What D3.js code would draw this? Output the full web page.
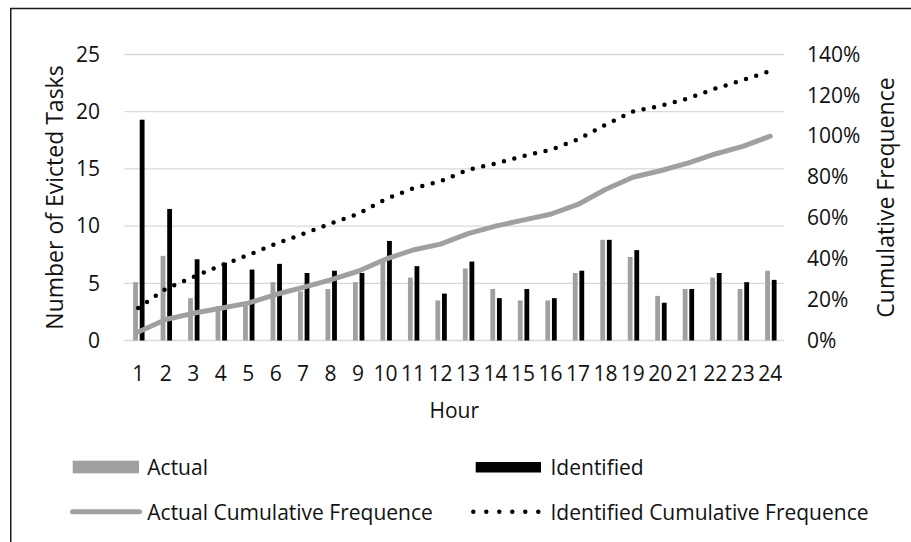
<!DOCTYPE html>
<html>
   <head>
      <script type="text/javascript" src="https://d3js.org/d3.v7.min.js"></script>
      <style>
         body { margin: 0; background: #fff; font-family: "Open Sans", sans-serif; }
         svg text { fill: #111; }
      </style>
   </head>
   <body>
      <script>
         // hours 1..24
         var hours = ["1","2","3","4","5","6","7","8","9","10","11","12","13","14","15","16","17","18","19","20","21","22","23","24"];

         // evicted tasks per hour
         var actual = [5.1, 7.4, 3.7, 3.0, 3.1, 5.1, 4.3, 4.5, 5.1, 7.1, 5.5, 3.5, 6.3, 4.5, 3.5, 3.5, 5.9, 8.8, 7.3, 3.9, 4.5, 5.5, 4.5, 6.1];
         var identified = [19.3, 11.5, 7.1, 6.8, 6.2, 6.7, 5.9, 6.1, 5.9, 8.7, 6.5, 4.1, 6.9, 3.7, 4.5, 3.7, 6.1, 8.8, 7.9, 3.3, 4.5, 5.9, 5.1, 5.3];

         // cumulative frequence, in percent (right axis)
         var actualCum = [4.2, 10.3, 13.3, 15.8, 18.3, 22.5, 26.0, 29.7, 33.9, 39.8, 44.3, 47.2, 52.3, 56.0, 58.9, 61.8, 66.6, 73.9, 79.9, 83.1, 86.8, 91.3, 95.0, 100];
         var identifiedCum = [15.9, 25.3, 31.1, 36.7, 41.8, 47.3, 52.2, 57.2, 62.0, 69.2, 74.5, 77.9, 83.6, 86.6, 90.3, 93.3, 98.4, 105.6, 112.1, 114.8, 118.5, 123.3, 127.5, 131.9];

         var leftTicks = [0, 5, 10, 15, 20, 25];
         var rightTicks = [0, 20, 40, 60, 80, 100, 120, 140];

         var width = 911;
         var height = 542;
         var plotL = 124.5, plotR = 784, plotT = 54.5, plotB = 340.5;

         var svg = d3.select("body")
            .append("svg")
            .attr("width", width)
            .attr("height", height);

         // outer frame (runs off the right and bottom edges)
         svg.append("rect")
            .attr("x", 10.75)
            .attr("y", 8.5)
            .attr("width", 960)
            .attr("height", 600)
            .attr("fill", "none")
            .attr("stroke", "#1a1a1a")
            .attr("stroke-width", 1.5);

         var x = d3.scaleBand()
            .domain(hours)
            .range([plotL, plotR]);

         var yL = d3.scaleLinear()
            .domain([0, 25])
            .range([plotB, plotT]);

         var yR = d3.scaleLinear()
            .domain([0, 140])
            .range([plotB, plotT]);

         var cx = function(h) { return x(h) + x.bandwidth() / 2; };

         // gridlines
         svg.append("g")
            .selectAll("line")
            .data(leftTicks)
            .enter().append("line")
            .attr("x1", plotL)
            .attr("x2", plotR)
            .attr("y1", function(d) { return yL(d); })
            .attr("y2", function(d) { return yL(d); })
            .attr("stroke", "#d9d9d9")
            .attr("stroke-width", 1.3);

         // left axis
         var axL = svg.append("g")
            .attr("transform", "translate(" + 100 + ",0)")
            .call(d3.axisLeft(yL).tickValues(leftTicks).tickSize(0).tickPadding(0));
         axL.select(".domain").remove();
         axL.selectAll("text")
            .attr("font-family", "Open Sans")
            .attr("font-size", 21)
            .attr("fill", "#111");

         // right axis
         var axR = svg.append("g")
            .attr("transform", "translate(" + 807 + ",0)")
            .call(d3.axisRight(yR).tickValues(rightTicks).tickSize(0).tickPadding(0)
               .tickFormat(function(d) { return d + "%"; }));
         axR.select(".domain").remove();
         axR.selectAll("text")
            .attr("font-family", "Open Sans")
            .attr("font-size", 21)
            .attr("fill", "#111");

         // x axis
         var axX = svg.append("g")
            .attr("transform", "translate(0," + plotB + ")")
            .call(d3.axisBottom(x).tickSize(0).tickPadding(26));
         axX.select(".domain").remove();
         axX.selectAll("text")
            .attr("font-family", "Open Sans")
            .attr("font-size", 21)
            .attr("fill", "#111");

         // bars
         svg.append("g")
            .selectAll("rect")
            .data(actual)
            .enter().append("rect")
            .attr("x", function(d, i) { return cx(hours[i]) - 5.1; })
            .attr("width", 4.8)
            .attr("y", function(d) { return yL(d); })
            .attr("height", function(d) { return plotB - yL(d); })
            .attr("fill", "#a0a0a0");

         svg.append("g")
            .selectAll("rect")
            .data(identified)
            .enter().append("rect")
            .attr("x", function(d, i) { return cx(hours[i]) + 1.5; })
            .attr("width", 4.8)
            .attr("y", function(d) { return yL(d); })
            .attr("height", function(d) { return plotB - yL(d); })
            .attr("fill", "#000");

         // cumulative lines
         var line = d3.line()
            .x(function(d, i) { return cx(hours[i]); })
            .y(function(d) { return yR(d); });

         svg.append("path")
            .datum(actualCum)
            .attr("d", line)
            .attr("fill", "none")
            .attr("stroke", "#a0a0a0")
            .attr("stroke-width", 5)
            .attr("stroke-linecap", "round")
            .attr("stroke-linejoin", "round");

         svg.append("path")
            .datum(identifiedCum)
            .attr("d", line)
            .attr("fill", "none")
            .attr("stroke", "#000")
            .attr("stroke-width", 4.5)
            .attr("stroke-linecap", "round")
            .attr("stroke-dasharray", "0 10.7");

         // axis titles
         svg.append("text")
            .attr("transform", "translate(54," + ((plotT + plotB) / 2) + ") rotate(-90)")
            .attr("text-anchor", "middle")
            .attr("dominant-baseline", "central")
            .attr("font-size", 23)
            .text("Number of Evicted Tasks");

         svg.append("text")
            .attr("transform", "translate(885," + ((plotT + plotB) / 2) + ") rotate(-90)")
            .attr("text-anchor", "middle")
            .attr("dominant-baseline", "central")
            .attr("font-size", 23)
            .text("Cumulative Frequence");

         svg.append("text")
            .attr("x", (plotL + plotR) / 2)
            .attr("y", 410)
            .attr("text-anchor", "middle")
            .attr("dominant-baseline", "central")
            .attr("font-size", 21)
            .text("Hour");

         // legend
         var legendNames = ["Actual", "Identified", "Actual Cumulative Frequence", "Identified Cumulative Frequence"];
         var legX = [72.7, 475.7];
         var legY = [467, 511.7];
         var textX = [147.3, 550.5];

         var lg = svg.append("g");

         lg.append("rect")
            .attr("x", legX[0]).attr("y", legY[0] - 6.3)
            .attr("width", 66.3).attr("height", 12.6)
            .attr("fill", "#a0a0a0");

         lg.append("rect")
            .attr("x", legX[1]).attr("y", legY[0] - 5)
            .attr("width", 65.3).attr("height", 10.5)
            .attr("fill", "#000");

         lg.append("line")
            .attr("x1", 72.5).attr("x2", 139.5)
            .attr("y1", legY[1]).attr("y2", legY[1])
            .attr("stroke", "#a0a0a0")
            .attr("stroke-width", 5)
            .attr("stroke-linecap", "round");

         lg.append("line")
            .attr("x1", 473.3).attr("x2", 540)
            .attr("y1", legY[1]).attr("y2", legY[1])
            .attr("stroke", "#000")
            .attr("stroke-width", 4.5)
            .attr("stroke-linecap", "round")
            .attr("stroke-dasharray", "0 13");

         lg.selectAll("text")
            .data(legendNames)
            .enter().append("text")
            .attr("x", function(d, i) { return textX[i % 2]; })
            .attr("y", function(d, i) { return legY[Math.floor(i / 2)]; })
            .attr("dominant-baseline", "central")
            .attr("font-size", 21)
            .text(function(d) { return d; });
      </script>
   </body>
</html>
